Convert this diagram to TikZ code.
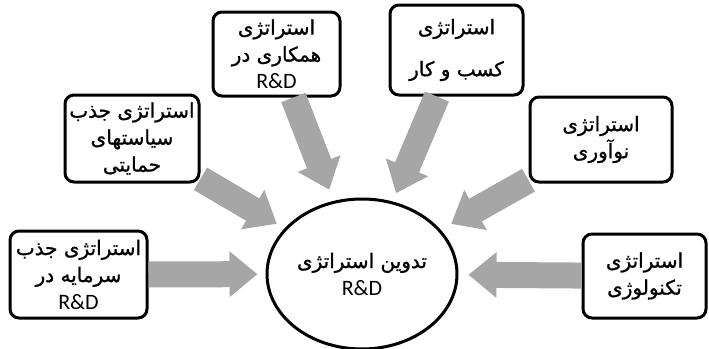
\documentclass[tikz,border=0pt]{standalone}
\usepackage{fontspec}
\usetikzlibrary{arrows.meta,shapes.geometric}
\TeXXeTstate=1
\newfontfamily\arabicfont[Script=Arabic,FakeBold=1]{DejaVu Sans}
\newfontfamily\latinfont{Carlito}
\definecolor{feedgray}{RGB}{166,166,166}
\newcommand{\rtl}[1]{\beginR#1\endR}
\newcommand{\rnd}{{\latinfont\fontsize{22}{27}\selectfont R\&D}}
\tikzset{
    stratbox/.style={
        draw=black,line width=3pt,rounded corners=9pt,fill=white,
        align=center,inner sep=0pt,
        font=\arabicfont\fontsize{20}{27}\selectfont
    },
    goal/.style={
        ellipse,draw=black,line width=3pt,fill=white,
        minimum width=190pt,minimum height=150pt,inner sep=0pt,
        align=center,font=\arabicfont\fontsize{20}{27}\selectfont
    },
    feed/.style={
        line width=26pt,draw=feedgray,
        -{Triangle[width=44pt,length=28pt]},shorten >=#1
    },
    feed/.default=10pt
}

\begin{document}
\begin{tikzpicture}[x=1pt,y=-1pt]
\useasboundingbox (0,0) rectangle (709,348);

% centre
\node[goal] (goal) at (362,274)
{\rtl{تدوین استراتژی}\\\rnd};

% strategies
\node[stratbox,minimum width=137pt,minimum height=87pt] (capital) at (78.5,274.5)
{\rtl{استراتژی جذب}\\\rtl{سرمایه در}\\\rnd};
\node[stratbox,minimum width=134pt,minimum height=87pt] (policy) at (132,138.5)
{\rtl{استراتژی جذب}\\\rtl{سیاستهای}\\\rtl{حمایتی}};
\node[stratbox,minimum width=127pt,minimum height=84pt] (cooper) at (276.5,54)
{\rtl{استراتژی}\\\rtl{همکاری در}\\\rnd};
\node[stratbox,minimum width=133pt,minimum height=90pt] (business) at (456.5,50)
{\rtl{استراتژی}\\[15pt]\rtl{کسب و کار}};
\node[stratbox,minimum width=142pt,minimum height=85pt] (innov) at (601,139.5)
{\rtl{استراتژی}\\\rtl{نوآوری}};
\node[stratbox,minimum width=123pt,minimum height=84pt] (techno) at (644.5,276)
{\rtl{استراتژی}\\\rtl{تکنولوژی}};

% arrows into the centre
\draw[feed=8pt] (capital) -- (goal);
\draw[feed=9pt] (policy) -- (goal);
\draw[feed=12pt] (cooper) -- (goal);
\draw[feed=9pt] (business) -- (goal);
\draw[feed=12pt] (innov) -- (goal);
\draw[feed=10pt] (techno) -- (goal);

\end{tikzpicture}
\end{document}
